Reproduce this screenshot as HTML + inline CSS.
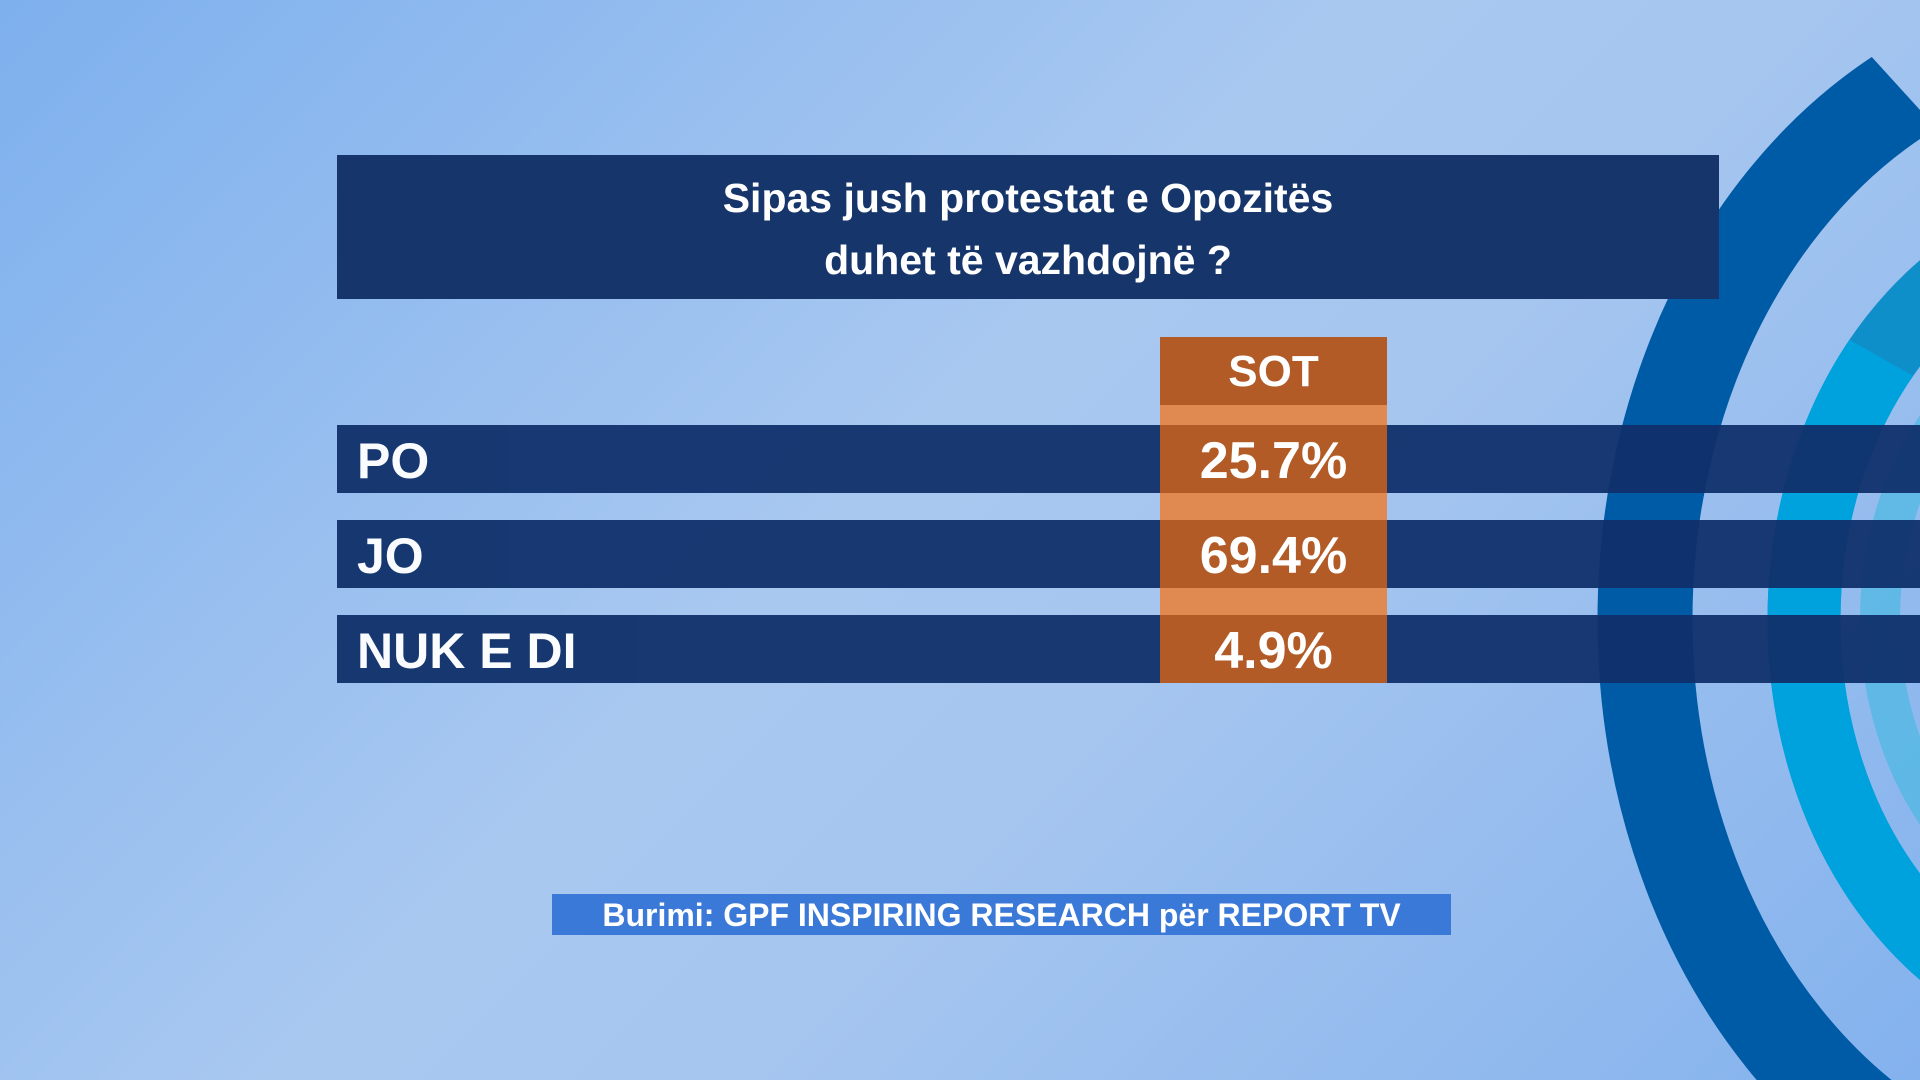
<!DOCTYPE html>
<html style="width:1920px;height:1080px"><head><meta charset="utf-8"><style>
html,body{margin:0;padding:0;overflow:hidden}
body{width:1920px;height:1080px;position:relative;font-family:"Liberation Sans",sans-serif;font-weight:bold;
background:linear-gradient(135deg,#7eb0ee 0%,#a8c8f0 45%,#a6c6ef 60%,#84b2ee 100%);}
.abs{position:absolute}
svg{display:block}
.row{position:absolute;left:337px;width:1583px;height:68px;background:#10306a;opacity:.95;color:#fff;font-size:50px;line-height:72px;padding-left:20px;box-sizing:border-box}
.cell{position:absolute;left:1160px;width:227px;height:68px;background:#b25b27;color:#fff;font-size:52px;line-height:72px;text-align:center}
</style></head><body>
<svg class="abs" style="left:0;top:0" width="1920" height="1080">
<defs><clipPath id="c"><polygon points="1500,0 1820,0 1920,110 1920,1080 1500,1080"/></clipPath>
<clipPath id="c2"><polygon points="1500,300 1780,300 1920,380 1920,1080 1500,1080"/></clipPath></defs>
<ellipse cx="2120" cy="620" rx="475" ry="592" fill="none" stroke="#005ba6" stroke-width="95" clip-path="url(#c)"/>
<ellipse cx="2120" cy="620" rx="316" ry="400" fill="none" stroke="#0f8fca" stroke-width="73"/>
<ellipse cx="2120" cy="620" rx="316" ry="400" fill="none" stroke="#00a2dd" stroke-width="73" clip-path="url(#c2)"/>
<ellipse cx="2120" cy="620" rx="240" ry="300" fill="none" stroke="#3fb8df" stroke-width="40" clip-path="url(#c2)" opacity=".6"/>
</svg>
<div class="abs" style="left:337px;top:155px;width:1382px;height:144px;background:#16366b;color:#fff;font-size:41px;text-align:center;line-height:62px;padding-top:12px;box-sizing:border-box">Sipas jush protestat e Opozitës<br>duhet të vazhdojnë ?</div>
<div class="abs" style="left:1160px;top:337px;width:227px;height:68px;background:#b25b27;color:#fff;font-size:44px;line-height:70px;text-align:center">SOT</div>
<div class="abs" style="left:1160px;top:405px;width:227px;height:278px;background:#e08a51"></div>
<div class="row" style="top:425px">PO</div>
<div class="row" style="top:520px">JO</div>
<div class="row" style="top:615px">NUK E DI</div>
<div class="cell" style="top:425px">25.7%</div>
<div class="cell" style="top:520px">69.4%</div>
<div class="cell" style="top:615px">4.9%</div>
<div class="abs" style="left:552px;top:894px;width:899px;height:41px;background:#3b79d8;color:#fff;font-size:32px;line-height:43px;text-align:center">Burimi: GPF INSPIRING RESEARCH për REPORT TV</div>
</body></html>
